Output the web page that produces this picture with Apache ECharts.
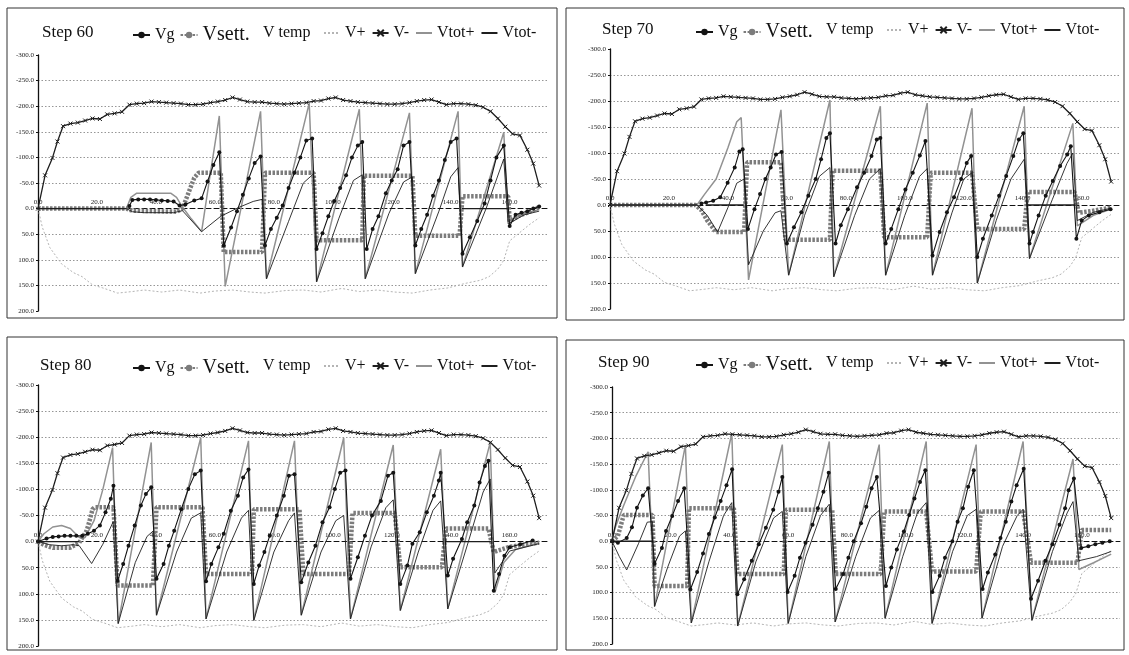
<!DOCTYPE html>
<html>
<head>
<meta charset="utf-8">
<script src="https://cdn.jsdelivr.net/npm/echarts/dist/echarts.min.js"></script>
<style>
  html, body { margin: 0; padding: 0; background: #fff; }
  #chart { width: 1129px; height: 655px; }
</style>
</head>
<body>
<div id="chart"></div>
<script>
// ---- shared envelope curves (same in every step) ----
const vMinus = [[0,0],[2.4,-65],[4.9,-99],[6.6,-131],[8.5,-161],[11,-166],[13.5,-168],[16,-172],[18.5,-176],[21,-175],[23.5,-184],[26,-186],[28.5,-189],[31,-203],[33.5,-205],[36,-206],[38.5,-209],[41,-208],[43.5,-207],[46,-206],[48.5,-205],[51,-203],[53.5,-203],[56,-204],[58.5,-207],[61,-209],[63.5,-212],[66,-217],[68.5,-213],[71,-209],[73.5,-208],[76,-208],[78.5,-206],[81,-205],[83.5,-204],[86,-205],[88.5,-206],[91,-207],[93.5,-210],[96,-211],[98.5,-215],[101,-217],[103.5,-212],[106,-210],[108.5,-208],[111,-207],[113.5,-206],[116,-205],[118.5,-204],[121,-204],[123.5,-205],[126,-207],[128.5,-210],[131,-212],[133.5,-213],[136,-208],[138.5,-203],[141,-205],[143.5,-205],[146,-204],[148.5,-202],[151,-198],[153.5,-190],[156,-176],[158.5,-160],[161,-146],[163.5,-143],[166,-115],[168,-88],[170,-45]];
const vPlus = [[0,0],[1.5,37],[4,76],[8,108],[12,125],[15,133],[18.5,149],[22,155],[27,165],[32,162],[36,159],[42,163],[48,159],[55,165],[60,161],[66,159],[72,163],[77,165],[84,160],[90,159],[96,163],[103,156],[109,162],[115,159],[121,163],[127,165],[133,159],[139,155],[145,146],[150,140],[153,133],[156,118],[158,101],[160,63],[164,44],[167,30],[170,18]];

// ---- Step 60 ----
const vg60 = [[31,-5],[32,-17],[34,-18],[36,-18],[38,-18],[40,-17],[42,-16],[44,-15],[46,-14],[48,-6],[50,-8],[53,-16],[55.5,-20],[57.5,-53],[59.5,-85],[61.5,-110],[63,72],[65.5,37],[67.5,5],[69.5,-27],[71.5,-59],[73.5,-89],[75.5,-102],[77,72],[79,40],[81,18],[83,-6],[85,-40],[87,-70],[89,-100],[91,-133],[93,-137],[94.5,79],[96.5,48],[98.5,15],[100.5,-15],[102.5,-40],[104.5,-65],[106.5,-100],[108.5,-123],[110,-130],[111.5,79],[113.5,40],[115.5,15],[118,-30],[120,-55],[122,-77],[124,-123],[126,-130],[128,72],[130,40],[132,12],[134,-25],[136,-55],[138,-95],[140,-130],[142,-137],[144,88],[146.5,56],[149,24],[151.5,-10],[153.5,-55],[155.5,-100],[158,-123],[160,34],[162,12],[164,8],[166,5],[168,0],[170,-4]];
const vsett60 = [[0,0],[30,0],[32,4],[47,6],[49,0],[51,-30],[53,-60],[54.5,-70],[62,-70],[63,85],[76,85],[77,-70],[93.5,-70],[94.5,62],[110,62],[110.5,-64],[127,-64],[128,53],[143,53],[144,-24],[159.5,-24],[160,25],[163,14],[166,8],[170,-3]];
const vtemp60 = [[30,0],[32,6],[36,8],[46,8],[49,4],[55.5,45],[62,15],[68,-2],[73,-14],[76,-18],[77.5,137],[85,25],[90,-50],[93.5,-68],[94.5,143],[102,20],[107,-55],[110,-66],[111,137],[119,10],[124,-52],[127,-62],[128,127],[136,5],[140,-62],[142.5,-80],[144,114],[152,0],[158,-97],[159.5,30],[165,12],[170,5]];
const vtotPlus60 = [[0,0],[30,0],[31.5,-22],[33.5,-30],[45,-30],[47,-22],[49,-3],[52,20],[55.5,45],[58.5,-70],[61.5,-181],[63.5,152],[75.5,-190],[77.5,137],[92,-206],[94.5,143],[109,-194],[111,137],[126,-187],[128,127],[142.5,-190],[144,114],[158,-149],[159.5,25],[165,10],[170,2]];
const vtotMinus60 = [[0,0],[30,0],[31,null],[144,0],[159.5,0]];

// ---- Step 70 ----
const vg70 = [[31,-3],[32.6,-5],[35,-8],[37.4,-15],[39.9,-43],[42.3,-72],[43.9,-103],[45,-107],[46.8,46],[49,8],[50.9,-21],[52.7,-50],[54.5,-72],[56.3,-97],[58.2,-102],[60,74],[62.4,43],[64.9,14],[67.3,-18],[69.8,-50],[71.6,-88],[73.4,-129],[74.6,-138],[76.5,74],[78.3,39],[80.7,8],[83.8,-34],[86.2,-62],[88.7,-94],[90.5,-126],[91.7,-129],[93.5,74],[95.4,46],[97.8,8],[100.2,-30],[102.7,-62],[105.1,-95],[107,-123],[109.4,97],[111.8,52],[114.3,14],[116.7,-15],[119.1,-50],[121,-81],[122.5,-94],[124.6,100],[126.5,65],[129.5,20],[132,-18],[134.4,-56],[136.8,-94],[138.7,-126],[140.2,-138],[142.3,74],[143.5,52],[145.4,20],[147.8,-18],[150.2,-46],[152.7,-75],[155.1,-97],[156.3,-113],[158.2,65],[160,30],[162.4,20],[166,14],[169.8,8]];
const vsett70 = [[0,0],[29,0],[31,10],[33,30],[36,52],[45.5,52],[46.5,-82],[58,-82],[59.5,67],[74.6,67],[75.5,-66],[91.7,-66],[93,62],[107.6,62],[108.8,-62],[122.8,-62],[124.6,46],[140.5,46],[141.7,-25],[157.6,-25],[159,15],[163,12],[170,5]];
const vtemp70 = [[29.5,0],[33,20],[36.5,52],[40,5],[43,-42],[45.5,-50],[47,115],[52,50],[56,15],[58,11],[60.6,135],[66,20],[71,-55],[74.6,-72],[75.9,138],[83,20],[88,-50],[91.7,-70],[93.5,135],[100,20],[105,-55],[107.6,-70],[109.4,135],[116,15],[120,-50],[122.8,-62],[124.6,150],[131,30],[136,-50],[140.5,-88],[142.3,103],[150,-10],[155,-80],[157,-100],[158.5,30],[164,14],[170,6]];
const vtotPlus70 = [[0,0],[29.5,0],[32,-20],[36,-50],[40,-110],[43,-160],[44.5,-168],[47,144],[58,-183],[60.6,135],[74.6,-202],[75.9,138],[91.7,-190],[93.5,135],[107.6,-196],[109.4,135],[122.8,-186],[124.6,150],[140.5,-190],[142.3,103],[157,-157],[158.5,40],[164,20],[170,8]];
const vtotMinus70 = [[0,0],[29.5,0],[31,null],[32.6,0],[45.4,0],[46,null],[141.7,0],[157.6,0]];

// ---- Step 80 ----
const vg80 = [[0,0],[2.9,-6],[5,-9],[7,-10],[9,-11],[11,-11],[13,-11],[15,-11],[16.9,-15],[19,-21],[21,-31],[22.9,-56],[24.7,-82],[25.6,-107],[27,75],[28.9,43],[30.7,8],[32.8,-31],[34.9,-69],[36.6,-91],[38.4,-104],[40.2,71],[42.6,43],[44.4,8],[46.2,-21],[48.6,-62],[51,-101],[53.2,-129],[55.2,-136],[57,76],[58.8,43],[61.2,11],[63,-15],[65.4,-59],[67.8,-88],[69.6,-123],[71.4,-138],[73.2,81],[75,46],[76.8,20],[78.6,-11],[81,-50],[83.4,-88],[85.1,-126],[87,-129],[89.3,78],[91.7,40],[94.1,8],[96.5,-37],[98.9,-66],[100.7,-101],[102.5,-132],[104.3,-136],[106,71],[108.5,30],[110.9,-11],[113.3,-50],[116.3,-78],[118.7,-126],[120.5,-132],[122.9,81],[125.3,46],[127,4],[129.5,-18],[131.9,-56],[134.3,-88],[136,-117],[136.6,-132],[139,65],[140.8,33],[143.8,-5],[145.6,-37],[148,-69],[149.8,-113],[151.6,-145],[152.8,-155],[154.6,94],[156.4,62],[158.2,27],[160,11],[163.6,5],[167.8,-2]];
const vsett80 = [[0,0],[2,6],[5,12],[10.8,12],[14,2],[16.5,-21],[17.5,-40],[18.5,-62],[19.3,-66],[25.6,-66],[27,84],[39,84],[40.2,-66],[55.8,-66],[57,62],[72.6,62],[73.2,-62],[88.7,-62],[90,62],[105.5,62],[106.7,-55],[121,-55],[122.9,49],[137,49],[138.4,-25],[152.8,-25],[154.6,20],[160,10],[170,2]];
const vtemp80 = [[0,0],[4,6],[8,8],[12,6],[14,8],[18.2,42],[22,5],[25.5,-38],[27.2,157],[33,40],[37,-10],[39,-20],[40.2,141],[47,20],[52,-45],[55.2,-55],[57,148],[64,20],[69,-45],[71.4,-60],[73.2,151],[80,20],[85,-40],[87,-55],[89.3,141],[96,20],[101,-40],[103.7,-50],[106,148],[113,10],[118,-65],[120.5,-80],[122.9,132],[129,20],[134,-60],[136.6,-78],[139,129],[146,0],[151,-95],[153.4,-120],[155,60],[160,18],[170,4]];
const vtotPlus80 = [[0,0],[2,-15],[5,-28],[8,-31],[11,-25],[14,-8],[16,-8],[19,-40],[22,-100],[25.3,-180],[27.2,157],[38.4,-190],[40.2,141],[55.2,-199],[57,148],[71.4,-193],[73.2,151],[87,-193],[89.3,141],[103.7,-199],[106,148],[120.5,-185],[122.9,132],[136.6,-177],[139,129],[153.4,-190],[155,97],[158,40],[162,15],[170,2]];
const vtotMinus80 = [[0,0],[14,0],[15,null],[138,0],[153.4,0]];

// ---- Step 90 ----
const vg90 = [[0,0],[2,3],[5,-6],[6.8,-27],[8.5,-65],[10.5,-89],[12.3,-103],[14.5,44],[17,13],[18.4,-20],[20.5,-49],[22.5,-78],[24.6,-103],[26.7,94],[29,60],[31,24],[33,-14],[35,-46],[37,-78],[39,-109],[40.9,-140],[42.7,103],[45,74],[47.6,38],[50,6],[52.4,-26],[54.9,-61],[56.7,-96],[58,-125],[59.8,99],[62.2,67],[64,32],[65.9,3],[68.3,-32],[70.1,-64],[72,-96],[73.8,-133],[76.2,93],[78.7,64],[80.5,32],[82.3,0],[84.8,-35],[86.6,-67],[88.4,-103],[90.2,-125],[93.3,87],[95.1,51],[97,16],[99.4,-19],[101.2,-51],[103,-83],[104.9,-115],[106.7,-138],[109.1,99],[111.6,67],[113.4,32],[115.9,0],[117.7,-38],[119.5,-64],[121.3,-106],[123.2,-138],[126.2,93],[128,61],[130.5,26],[132.3,-6],[134.1,-38],[136,-77],[137.8,-109],[140.2,-141],[142.7,112],[145.1,77],[147.6,38],[150,6],[152.4,-32],[154.3,-64],[155.5,-99],[157.3,-122],[159.8,13],[162.2,10],[164.6,6],[167,3],[169.5,0]];
const vsett90 = [[0,0],[2,-10],[4,-51],[13.8,-51],[14.5,87],[25.6,87],[26.2,-64],[41.5,-64],[42.7,64],[58.5,64],[59.2,-61],[75,-61],[76.2,64],[91.5,64],[92.7,-58],[107,-58],[109,59],[124,59],[125.6,-58],[140,-58],[142.7,42],[158.5,42],[160,-22],[170,-22]];
const vtemp90 = [[0,0],[2.5,30],[5,56],[9,5],[12,-37],[13.8,-38],[14.5,127],[19,50],[23,-10],[25,-20],[27,159],[33,40],[38,-50],[40.8,-75],[42.8,165],[49,40],[55,-45],[58,-58],[60,160],[66,30],[71,-50],[74,-72],[76,157],[83,30],[88,-45],[91,-60],[93,150],[99,30],[104,-55],[107,-75],[109,160],[116,20],[121,-50],[124,-62],[126,150],[133,10],[138,-50],[140,-62],[143,154],[150,20],[155,-55],[157,-77],[159,38],[165,30],[170,20]];
const vtotPlus90 = [[0,0],[1,-25],[4,-70],[8,-125],[12.3,-174],[14.5,127],[25,-187],[27,159],[40.8,-210],[42.8,165],[58,-188],[60,160],[74,-194],[76,157],[91,-188],[93,150],[107,-194],[109,160],[124,-188],[126,150],[140,-194],[143,154],[157,-160],[159,55],[164,42],[170,25]];
const vtotMinus90 = [[0,0],[13.8,0]];

// ---- labels ----
const stepTitles = ['Step 60', 'Step 70', 'Step 80', 'Step 90'];
const seriesNames = ['Vg', 'Vsett.', 'V temp', 'V+', 'V-', 'Vtot+', 'Vtot-'];
const yTicks = { min: -300, max: 200, step: 50 };
const xTicks = { min: 0, max: 173, step: 20 };

const stepData = [
  { vg: vg60, vsett: vsett60, vtemp: vtemp60, vtotPlus: vtotPlus60, vtotMinus: vtotMinus60 },
  { vg: vg70, vsett: vsett70, vtemp: vtemp70, vtotPlus: vtotPlus70, vtotMinus: vtotMinus70 },
  { vg: vg80, vsett: vsett80, vtemp: vtemp80, vtotPlus: vtotPlus80, vtotMinus: vtotMinus80 },
  { vg: vg90, vsett: vsett90, vtemp: vtemp90, vtotPlus: vtotPlus90, vtotMinus: vtotMinus90 }
];

// ---- layout of the four framed panels ----
const layout = [
  { box: [7, 8, 550, 310],   grid: { left: 38,  top: 55,  width: 510, height: 256 }, title: [37, 19],  legendX: 127, legendTop: 20 },
  { box: [566, 8, 558, 312], grid: { left: 610, top: 49,  width: 510, height: 260 }, title: [597, 16], legendX: 690, legendTop: 17 },
  { box: [7, 337, 550, 313], grid: { left: 38,  top: 385, width: 510, height: 261 }, title: [35, 352], legendX: 127, legendTop: 353 },
  { box: [566, 340, 558, 310], grid: { left: 612, top: 387, width: 508, height: 257 }, title: [593, 349], legendX: 690, legendTop: 350 }
];

const SERIF = '"Liberation Serif", "DejaVu Serif", serif';
const crossSymbol = 'path://M0,0L10,10M10,0L0,10';

const seriesStyle = {
  'V+':     { color: '#b4b4b4', width: 1,   type: [2, 2], symbol: 'none', z: 1 },
  'Vtot+':  { color: '#929292', width: 1.5, type: 'solid', symbol: 'none', z: 2 },
  'Vsett.': { color: '#7c7c7c', width: 4.5, type: [2.5, 1.5], symbol: 'none', z: 3 },
  'V temp': { color: '#1e1e1e', width: 0.9, type: 'solid', symbol: 'none', z: 4 },
  'Vtot-':  { color: '#1e1e1e', width: 1.4, type: 'solid', symbol: 'none', z: 5 },
  'Vg':     { color: '#141414', width: 1.1, type: 'solid', symbol: 'circle', size: 4, z: 6 },
  'V-':     { color: '#1e1e1e', width: 1.3, type: 'solid', symbol: crossSymbol, size: 4, z: 7 }
};

const grids = [], xAxes = [], yAxes = [], series = [], legends = [], titles = [], graphics = [];

const ySplitColors = [];
for (let v = yTicks.min; v <= yTicks.max; v += yTicks.step) {
  ySplitColors.push(v === yTicks.min || v === yTicks.max || v === 0 ? 'rgba(0,0,0,0)' : '#8a8a8a');
}

// legend entries of unmarked lines show only their line
const plainLine = name => ({ name, itemStyle: { opacity: 0 } });

layout.forEach((L, i) => {
  const d = stepData[i];
  grids.push(Object.assign({ containLabel: false }, L.grid));

  // the category axis sits on the zero level of the (inverted) value axis
  const zeroOffset = -L.grid.height * (yTicks.max - 0) / (yTicks.max - yTicks.min);
  xAxes.push({
    type: 'value', gridIndex: i, min: xTicks.min, max: xTicks.max, interval: xTicks.step,
    position: 'bottom', offset: zeroOffset,
    axisLine: { onZero: false, lineStyle: { color: '#111', width: 1, type: [5, 3] } },
    axisTick: { show: false },
    splitLine: { show: false },
    axisLabel: {
      inside: true, margin: 3, fontFamily: SERIF, fontSize: 7, color: '#222',
      formatter: v => (v % xTicks.step === 0 ? v.toFixed(1) : '')
    }
  });

  yAxes.push({
    type: 'value', gridIndex: i, inverse: true, min: yTicks.min, max: yTicks.max, interval: yTicks.step,
    axisLine: { show: true, onZero: false, lineStyle: { color: '#111', width: 1.3 } },
    axisTick: { show: true, length: 2, lineStyle: { color: '#111' } },
    splitLine: { show: true, lineStyle: { color: ySplitColors, type: [1.5, 2], width: 0.9 } },
    axisLabel: { margin: 4, fontFamily: SERIF, fontSize: 7, color: '#222', formatter: v => v.toFixed(1) }
  });

  const perName = {
    'Vg': d.vg, 'Vsett.': d.vsett, 'V temp': d.vtemp, 'V+': vPlus,
    'V-': vMinus, 'Vtot+': d.vtotPlus, 'Vtot-': d.vtotMinus
  };
  seriesNames.forEach(name => {
    const s = seriesStyle[name];
    series.push({
      name, type: 'line', xAxisIndex: i, yAxisIndex: i, data: perName[name],
      z: s.z, silent: true, connectNulls: false,
      symbol: s.symbol, symbolSize: s.size || 0, showSymbol: s.symbol !== 'none',
      lineStyle: { color: s.color, width: s.width, type: s.type },
      itemStyle: { color: s.color, borderColor: s.color, borderWidth: name === 'V-' ? 1 : 0 }
    });
  });

  // legend split in three groups: marked series, the unmarked "V temp", the envelopes
  const lx = L.legendX;
  const common = {
    top: L.legendTop, orient: 'horizontal', selectedMode: false, itemHeight: 8, itemWidth: 17,
    textStyle: { fontFamily: SERIF, fontSize: 16, color: '#111', rich: { big: { fontFamily: SERIF, fontSize: 20, color: '#111' } } },
    formatter: n => (n === 'Vsett.' ? '{big|Vsett.}' : n)
  };
  legends.push(Object.assign({}, common, { left: lx, itemGap: 5, data: ['Vg', 'Vsett.'] }));
  legends.push(Object.assign({}, common, { left: lx + 126, itemWidth: 0, data: [{ name: 'V temp', icon: 'none' }] }));
  legends.push(Object.assign({}, common, {
    left: lx + 191, itemWidth: 16, itemGap: 6,
    data: [plainLine('V+'), 'V-', plainLine('Vtot+'), plainLine('Vtot-')]
  }));

  titles.push({
    text: stepTitles[i], left: L.title[0], top: L.title[1],
    textStyle: { fontFamily: SERIF, fontSize: 17, fontWeight: 'normal', color: '#111' }
  });

  graphics.push({
    type: 'rect', silent: true, z: -1,
    shape: { x: L.box[0], y: L.box[1], width: L.box[2], height: L.box[3] },
    style: { fill: 'none', stroke: '#333', lineWidth: 1 }
  });
});

const chart = echarts.init(document.getElementById('chart'), null, { renderer: 'canvas' });
chart.setOption({
  animation: false,
  backgroundColor: '#fff',
  title: titles,
  legend: legends,
  grid: grids,
  xAxis: xAxes,
  yAxis: yAxes,
  series,
  graphic: graphics
});
</script>
</body>
</html>
